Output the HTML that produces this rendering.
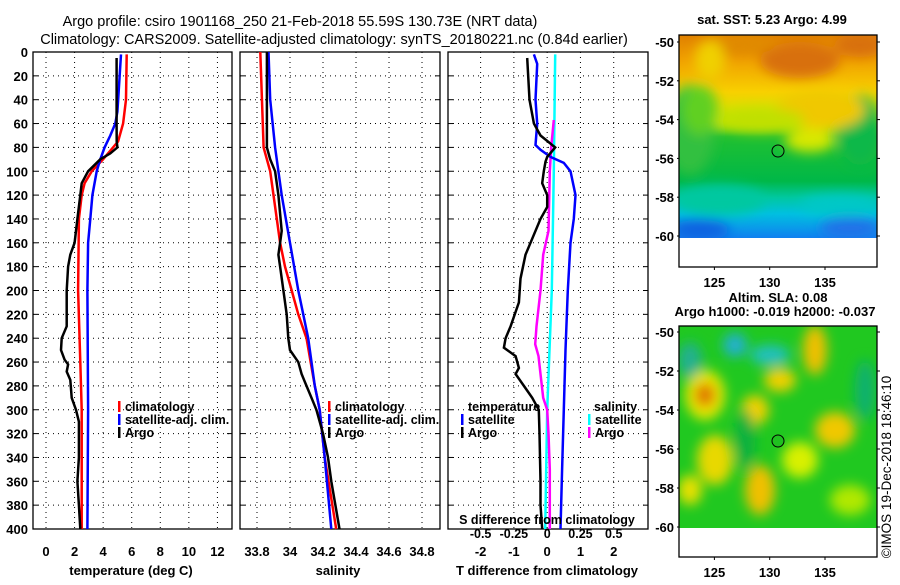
<!DOCTYPE html>
<html><head><meta charset="utf-8">
<style>
html,body{margin:0;padding:0;background:#fff;}
body{width:900px;height:580px;overflow:hidden;font-family:"Liberation Sans",sans-serif;}
svg text{font-family:"Liberation Sans",sans-serif;}
.tk{font-size:13px;font-weight:bold;fill:#000;}
.lg{font-size:12.5px;font-weight:bold;fill:#000;}
</style></head>
<body>
<svg id="chart" width="900" height="580" viewBox="0 0 900 580" xmlns="http://www.w3.org/2000/svg">
<defs>
<filter id="bl" x="-20%" y="-20%" width="140%" height="140%"><feGaussianBlur stdDeviation="6"/></filter>
<clipPath id="c1"><rect x="679" y="35" width="198" height="203"/></clipPath>
<clipPath id="c2"><rect x="679" y="326" width="198" height="202"/></clipPath>
<linearGradient id="sst" x1="0" y1="0" x2="0" y2="1">
<stop offset="0" stop-color="#e08000"/><stop offset="0.12" stop-color="#f0a000"/>
<stop offset="0.28" stop-color="#f8d000"/><stop offset="0.42" stop-color="#c8e800"/>
<stop offset="0.5" stop-color="#20c030"/><stop offset="0.72" stop-color="#00b848"/>
<stop offset="0.8" stop-color="#00c8a0"/><stop offset="0.88" stop-color="#00c0e0"/>
<stop offset="1" stop-color="#1080f0"/></linearGradient>
</defs>
<text x="300" y="26" text-anchor="middle" style="font-size:14.5px">Argo profile: csiro 1901168_250 21-Feb-2018 55.59S 130.73E (NRT data)</text>
<text x="334" y="44" text-anchor="middle" style="font-size:14.5px">Climatology: CARS2009. Satellite-adjusted climatology: synTS_20180221.nc (0.84d earlier)</text>
<g id="panels"></g>

<g>
<text x="772" y="24" text-anchor="middle" class="tk">sat. SST: 5.23 Argo: 4.99</text>
<g clip-path="url(#c1)">
<rect x="679" y="35" width="198" height="203" fill="url(#sst)"/>
<g filter="url(#bl)">
<ellipse cx="690" cy="130" rx="25" ry="45" fill="#30c040"/>
<ellipse cx="700" cy="110" rx="18" ry="25" fill="#60d020"/>
<ellipse cx="800" cy="60" rx="40" ry="18" fill="#d87010"/>
<ellipse cx="860" cy="45" rx="25" ry="12" fill="#d87010"/>
<ellipse cx="740" cy="45" rx="35" ry="10" fill="#e08a00"/>
<ellipse cx="710" cy="60" rx="15" ry="20" fill="#f0d000"/>
<ellipse cx="860" cy="130" rx="22" ry="35" fill="#10b848"/>
<ellipse cx="820" cy="110" rx="45" ry="20" fill="#f0c800"/>
<ellipse cx="810" cy="140" rx="25" ry="12" fill="#d8e800"/>
<ellipse cx="760" cy="120" rx="45" ry="12" fill="#c0e000"/>
<ellipse cx="720" cy="200" rx="45" ry="15" fill="#00c8a0"/>
<ellipse cx="840" cy="205" rx="40" ry="10" fill="#00c8c8"/>
<ellipse cx="700" cy="230" rx="30" ry="10" fill="#1060e0"/>
<ellipse cx="850" cy="228" rx="30" ry="10" fill="#2070e8"/>
</g>
</g>
<rect x="679" y="35" width="198" height="232" fill="none" stroke="#000" stroke-width="1.3"/>
<circle cx="778" cy="151" r="6" fill="none" stroke="#000" stroke-width="1"/>
</g>

<g>
<text x="778" y="302" text-anchor="middle" class="tk">Altim. SLA: 0.08</text>
<text x="775" y="316" text-anchor="middle" class="tk">Argo h1000: -0.019 h2000: -0.037</text>
<g clip-path="url(#c2)">
<rect x="679" y="326" width="198" height="202" fill="#20c820"/>
<g filter="url(#bl)">
<ellipse cx="705" cy="395" rx="20" ry="25" fill="#e8e800"/>
<ellipse cx="705" cy="395" rx="10" ry="12" fill="#e07000"/>
<ellipse cx="735" cy="345" rx="12" ry="12" fill="#20b0d0"/>
<ellipse cx="770" cy="355" rx="20" ry="10" fill="#20c0c0"/>
<ellipse cx="690" cy="360" rx="12" ry="18" fill="#20b090"/>
<ellipse cx="780" cy="380" rx="16" ry="12" fill="#f0d000"/>
<ellipse cx="755" cy="410" rx="14" ry="15" fill="#f0d000"/>
<ellipse cx="815" cy="350" rx="12" ry="25" fill="#f0c000"/>
<ellipse cx="835" cy="430" rx="20" ry="18" fill="#f0c800"/>
<ellipse cx="715" cy="460" rx="18" ry="25" fill="#e8d800"/>
<ellipse cx="760" cy="490" rx="15" ry="25" fill="#f0c000"/>
<ellipse cx="800" cy="460" rx="18" ry="18" fill="#d8f000"/>
<ellipse cx="865" cy="390" rx="10" ry="30" fill="#10b070"/>
<ellipse cx="690" cy="490" rx="12" ry="15" fill="#e8e000"/>
<ellipse cx="850" cy="500" rx="20" ry="15" fill="#b0e800"/>
<ellipse cx="745" cy="440" rx="10" ry="30" fill="#10b040"/>
</g>
</g>
<rect x="679" y="326" width="198" height="231" fill="none" stroke="#000" stroke-width="1.3"/>
<circle cx="778" cy="441" r="6" fill="#20c020" stroke="#000" stroke-width="1"/>
</g>
<text transform="translate(891,467) rotate(-90)" text-anchor="middle" style="font-size:13.5px">©IMOS 19-Dec-2018 18:46:10</text>
<g id="mapaxes"></g>
</svg>
<script>
const depthTicks = [0,20,40,60,80,100,120,140,160,180,200,220,240,260,280,300,320,340,360,380,400];
const tTicks = [0,2,4,6,8,10,12];
const sTicks = [33.8,34,34.2,34.4,34.6,34.8];
const dTicks = [-2,-1,0,1,2];
const sdTicks = [-0.5,-0.25,0,0.25,0.5];
const latTicks = [-50,-52,-54,-56,-58,-60];
const lonTicks = [125,130,135];

const argoTDepth = [5,40,60,75,80,85,90,100,110,120,140,160,170,180,200,230,240,250,258,262,268,275,290,300,310,340,360,380,400];
const argoTVal   = [4.94,4.94,4.94,4.95,5.0,4.5,3.8,2.95,2.5,2.4,2.2,2.0,1.7,1.55,1.45,1.45,1.1,1.05,1.3,1.55,1.45,1.7,1.8,2.1,2.3,2.3,2.2,2.3,2.4];
const climTDepth = [2,40,60,75,90,100,110,120,140,200,260,300,400];
const climTVal   = [5.65,5.6,5.4,5.05,4.0,3.2,2.7,2.5,2.3,2.25,2.4,2.5,2.5];
const satTDepth  = [2,50,60,70,80,90,100,120,140,160,200,300,400];
const satTVal    = [5.25,5.0,4.85,4.5,4.1,3.8,3.55,3.25,3.1,2.95,2.9,2.95,2.9];

const climSDepth = [0,80,100,140,160,180,200,220,240,280,300,340,400];
const climSVal   = [33.82,33.84,33.88,33.92,33.94,33.97,34.01,34.05,34.10,34.15,34.18,34.21,34.28];
const satSDepth  = [0,40,80,120,160,200,240,280,300,340,400];
const satSVal    = [33.87,33.88,33.91,33.95,34.00,34.05,34.11,34.15,34.18,34.21,34.25];
const argoSDepth = [0,80,90,100,120,150,160,170,180,200,220,240,250,260,270,280,290,300,320,340,360,400];
const argoSVal   = [33.86,33.86,33.88,33.91,33.93,33.95,33.94,33.93,33.94,33.96,33.98,33.99,34.00,34.05,34.07,34.10,34.13,34.16,34.20,34.23,34.25,34.30];

const argoDTDepth = [5,40,60,70,80,88,92,100,110,120,130,140,160,170,190,210,230,240,248,255,265,270,280,290,300,320,360,380,400];
const argoDTVal   = [-0.6,-0.53,-0.4,-0.2,0.24,0,-0.05,-0.1,-0.15,0,0,-0.2,-0.5,-0.65,-0.8,-0.85,-1.1,-1.25,-1.3,-0.95,-0.85,-0.95,-0.7,-0.45,-0.25,-0.23,-0.2,-0.2,-0.15];
const satDTDepth  = [2,10,40,60,78,82,88,93,100,120,140,160,200,250,300,350,400];
const satDTVal    = [-0.4,-0.3,-0.35,-0.3,-0.35,-0.2,0.1,0.5,0.7,0.85,0.8,0.7,0.62,0.55,0.5,0.45,0.4];
const satDSDepth  = [2,100,200,300,400];
const satDSVal    = [0.06,0.05,0.035,0.0,-0.015];
const argoDSDepth = [57,80,100,150,170,200,230,245,255,270,290,300,320,350,400];
const argoDSVal   = [0.05,0.03,0.02,0.01,-0.03,-0.05,-0.08,-0.09,-0.065,-0.05,-0.03,0,0.01,0.02,0.02];

const NS = 'http://www.w3.org/2000/svg';
const Y0 = 52, Y1 = 529;
const yD = d => Y0 + d * (Y1 - Y0) / 400;
const P1 = {l:33, r:232, min:-0.91, max:13.02};
const P2 = {l:240, r:440, min:33.697, max:34.909};
const P3 = {l:448, r:648, min:-2.98, max:3.03};
const sx = p => v => p.l + (v - p.min) * (p.r - p.l) / (p.max - p.min);
const x1 = sx(P1), x2 = sx(P2), x3 = sx(P3);
const xS3 = s => x3(s * 4);
const root = document.getElementById('panels');
const mroot = document.getElementById('mapaxes');

function mk(tag, attrs, parent){
  const e = document.createElementNS(NS, tag);
  for (const k in attrs) e.setAttribute(k, attrs[k]);
  (parent || root).appendChild(e);
  return e;
}
function txt(x, y, s, cls, anchor, parent){
  const t = mk('text', {x:x, y:y, class:cls, 'text-anchor':anchor || 'middle'}, parent);
  t.textContent = s;
  return t;
}
function panel(p, name, xs, ticks, fmt){
  const g = mk('g', {});
  
  
  depthTicks.forEach(d => {
    if (d > 0 && d < 400) {
      const l = mk('line', {x1:p.l, x2:p.r, y1:yD(d), y2:yD(d), stroke:'#000', 'stroke-width':1, 'stroke-dasharray':'1 4'}, g);
      
      
    }
    mk('line', {x1:p.l, x2:p.l+5, y1:yD(d), y2:yD(d), stroke:'#000'}, g);
    mk('line', {x1:p.r-5, x2:p.r, y1:yD(d), y2:yD(d), stroke:'#000'}, g);
  });
  ticks.forEach(v => {
    const X = xs(v);
    const l = mk('line', {x1:X, x2:X, y1:Y0, y2:Y1, stroke:'#000', 'stroke-width':1, 'stroke-dasharray':'1 4'}, g);
    
    
    if (fmt) {
      const t = txt(X, 556, fmt(v), 'tk', 'middle', g);
      
      
    }
  });
  const b = mk('rect', {x:p.l, y:Y0, width:p.r-p.l, height:Y1-Y0, fill:'none', stroke:'#000', 'stroke-width':1.3}, g);
  
  
  return g;
}
function series(g, depths, vals, xs, color, w, name){
  let d = '';
  depths.forEach((dep, i) => { d += (i ? 'L' : 'M') + xs(vals[i]).toFixed(1) + ',' + yD(dep).toFixed(1); });
  const p = mk('path', {d:d, fill:'none', stroke:color, 'stroke-width':w, 'stroke-linejoin':'miter'}, g);
  
  
}
function legend(g, x, y, color, label, name){
  const m = mk('rect', {x:x, y:y-10, width:2.5, height:11, fill:color}, g);
  
  
  const t = txt(x + 7, y, label, 'lg', 'start', g);
  
  
}

depthTicks.forEach(d => {
  const t = txt(28, yD(d) + 5, String(d), 'tk', 'end');
  
  
});

const g1 = panel(P1, 'temperature-panel', x1, tTicks, v => String(v));
series(g1, climTDepth, climTVal, x1, '#ff0000', 2.5, 'climatology-temperature-line');
series(g1, satTDepth, satTVal, x1, '#0000ff', 2.5, 'satellite-temperature-line');
series(g1, argoTDepth, argoTVal, x1, '#000000', 2.5, 'argo-temperature-line');
legend(g1, 118, 411, '#ff0000', 'climatology', 'legend-climatology');
legend(g1, 118, 424, '#0000ff', 'satellite-adj. clim.', 'legend-satellite');
legend(g1, 118, 437, '#000000', 'Argo', 'legend-argo');
const a1 = txt(131, 575, 'temperature (deg C)', 'tk');  

const g2 = panel(P2, 'salinity-panel', x2, sTicks, v => String(v));
series(g2, climSDepth, climSVal, x2, '#ff0000', 2.5, 'climatology-salinity-line');
series(g2, satSDepth, satSVal, x2, '#0000ff', 2.5, 'satellite-salinity-line');
series(g2, argoSDepth, argoSVal, x2, '#000000', 2.5, 'argo-salinity-line');
legend(g2, 328, 411, '#ff0000', 'climatology', 'legend-climatology-s');
legend(g2, 328, 424, '#0000ff', 'satellite-adj. clim.', 'legend-satellite-s');
legend(g2, 328, 437, '#000000', 'Argo', 'legend-argo-s');
const a2 = txt(338, 575, 'salinity', 'tk');  

const g3 = panel(P3, 'difference-panel', x3, dTicks, v => String(v));
series(g3, satDSDepth, satDSVal, xS3, '#00ffff', 2.5, 'satellite-salinity-diff-line');
series(g3, argoDSDepth, argoDSVal, xS3, '#ff00ff', 2.5, 'argo-salinity-diff-line');
series(g3, satDTDepth, satDTVal, x3, '#0000ff', 2.5, 'satellite-temperature-diff-line');
series(g3, argoDTDepth, argoDTVal, x3, '#000000', 2.5, 'argo-temperature-diff-line');
const lt = txt(468, 411, 'temperature', 'lg', 'start', g3);  
legend(g3, 461, 424, '#0000ff', 'satellite', 'legend-t-satellite');
legend(g3, 461, 437, '#000000', 'Argo', 'legend-t-argo');
const ls = txt(594, 411, 'salinity', 'lg', 'start', g3);  
legend(g3, 588, 424, '#00ffff', 'satellite', 'legend-s-satellite');
legend(g3, 588, 437, '#ff00ff', 'Argo', 'legend-s-argo');
const st = txt(547, 524, 'S difference from climatology', 'lg', 'middle', g3);  
sdTicks.forEach(s => {
  const t = txt(xS3(s), 538, String(s), 'lg', 'middle', g3);
  
  
});
const a3 = txt(547, 575, 'T difference from climatology', 'tk');  

function mapAxes(top, latBottom, bottom){
  const yL = lat => top + (lat + 50) * (latBottom - top) / -10;
  const xL = lon => 679 + (lon - 121.8) * 198 / 17.9;
  latTicks.forEach(lat => {
    const t = txt(674, yL(lat) + 5, String(lat), 'tk', 'end', mroot);
    
    
    mk('line', {x1:677, x2:679, y1:yL(lat), y2:yL(lat), stroke:'#000'}, mroot);
    mk('line', {x1:877, x2:880, y1:yL(lat), y2:yL(lat), stroke:'#000'}, mroot);
  });
  lonTicks.forEach(lon => {
    const t = txt(xL(lon), bottom + 20, String(lon), 'tk', 'middle', mroot);
    
    
    mk('line', {x1:xL(lon), x2:xL(lon), y1:bottom, y2:bottom+3, stroke:'#000'}, mroot);
  });
}
mapAxes(42, 236, 267);
mapAxes(332, 527, 557);
</script>
</body></html>
